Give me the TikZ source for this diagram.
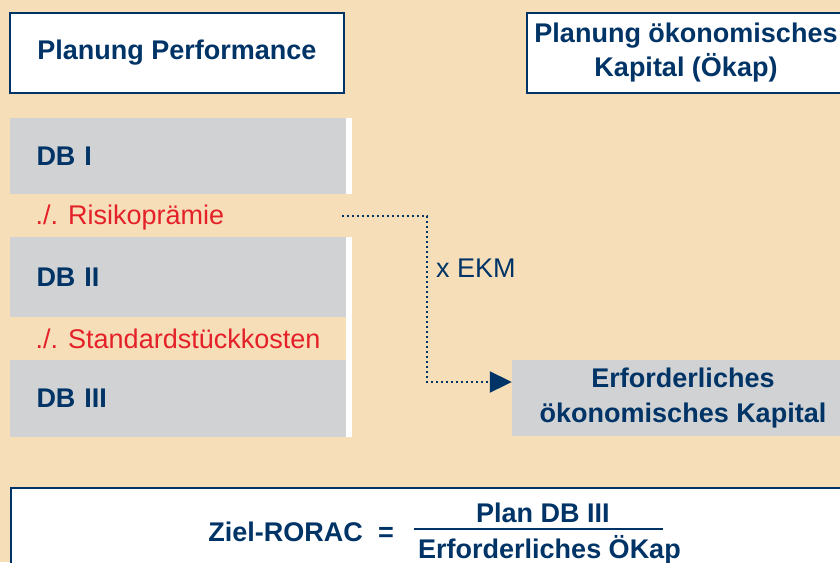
\documentclass[tikz,border=0pt]{standalone}
\usepackage{fontspec}
\setmainfont{Liberation Sans}
\usetikzlibrary{arrows.meta}

\definecolor{dunkelblau}{RGB}{0,51,102}
\definecolor{rot}{RGB}{228,32,40}
\definecolor{grau}{RGB}{208,210,212}
\definecolor{beige}{RGB}{246,222,184}

\newcommand{\groesse}{\fontsize{27}{34}\selectfont}

\tikzset{
	kopf/.style={draw=dunkelblau, line width=2pt, fill=white, text=dunkelblau, font=\groesse\bfseries, align=center},
	block/.style={fill=grau, text=dunkelblau, font=\groesse\bfseries, inner sep=0pt},
	abzug/.style={text=rot, font=\groesse, inner sep=0pt, anchor=base west},
	formel/.style={text=dunkelblau, font=\groesse\bfseries, inner sep=0pt},
	verweis/.style={draw=dunkelblau, line width=2pt, dash pattern=on 2pt off 3pt, -{Triangle[length=22pt, width=21pt]}},
}

\begin{document}
\begin{tikzpicture}[x=1pt, y=-1pt]
		\fill[beige] (0, 0) rectangle (840, 562);
		\useasboundingbox (0, 0) rectangle (840, 562);

		% Kopfzeilen
		\node[kopf, minimum width=334, minimum height=80] (perf) at (177, 52.5) {Planung Performance};
		\node[kopf, minimum width=318, minimum height=80] (oekap) at (686, 52.5) {Planung ökonomisches\\Kapital (Ökap)};

		% Deckungsbeitraege
		\node[block, minimum width=336, minimum height=76, text width=282, align=left] (db1) at (177.5, 156) {DB I};
		\node[block, minimum width=336, minimum height=80, text width=282, align=left] (db2) at (177.5, 277) {DB II};
		\node[block, minimum width=336, minimum height=77, text width=282, align=left] (db3) at (177.5, 398.5) {DB III};
		\fill[white] (db1.north east) rectangle ([xshift=6pt]db1.south east);
		\fill[white] (db2.north east) rectangle ([xshift=6pt]db3.south east);

		\node[abzug] (risiko) at (35.5, 224) {./. Risikoprämie};
		\node[abzug] (kosten) at (35.5, 348) {./. Standardstückkosten};

		\node[block, minimum width=342, minimum height=76, align=center, font=\fontsize{27}{35}\selectfont\bfseries] (kapital) at (683, 398) {Erforderliches\\ökonomisches Kapital};

		\coordinate (start) at (342, 216);
		\coordinate (knick) at (427, 216);
		\draw[verweis] (start) -- (knick) |- ([yshift=16pt]kapital.west);
		\node[anchor=base west, inner sep=0pt, text=dunkelblau, font=\groesse] (ekm) at (436, 277) {x EKM};

		% Ziel-RORAC
		\node[kopf, minimum width=840, minimum height=120, anchor=north west] (ziel) at (10, 487) {};
		\node[formel, anchor=base east] (rorac) at (363, 541) {Ziel-RORAC};
		\node[formel, anchor=base] (gleich) at (386, 541) {=};
		\node[formel, anchor=base west] (zaehler) at (476, 522) {Plan DB III};
		\node[formel, anchor=base west] (nenner) at (418, 558) {Erforderliches ÖKap};
		\draw[dunkelblau, line width=2pt] (414, 529) -- (663, 529);
	\end{tikzpicture}
\end{document}
